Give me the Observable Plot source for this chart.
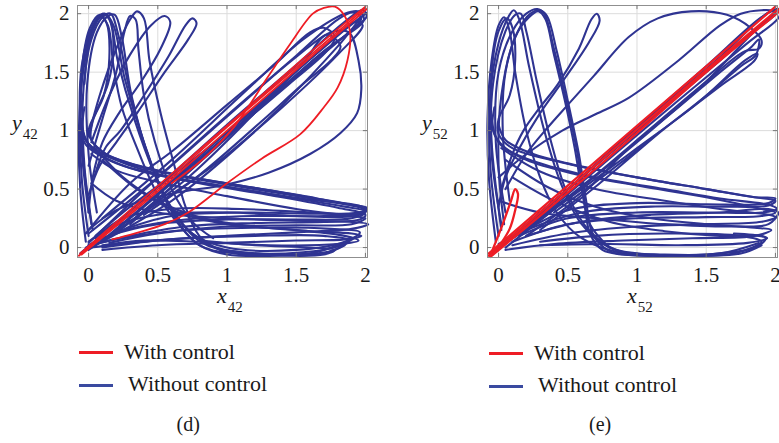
<!DOCTYPE html>
<html>
<head>
<meta charset="utf-8">
<script src="https://cdn.jsdelivr.net/npm/d3@7"></script>
<script src="https://cdn.jsdelivr.net/npm/@observablehq/plot@0.6"></script>
<style>
  html, body { margin: 0; padding: 0; background: #fff; overflow: hidden; }
  #wrap { position: relative; width: 779px; height: 443px; overflow: hidden; font-family: "Liberation Serif", "DejaVu Serif", serif; color: #1a1a1a; }
  .panel { position: absolute; top: 0; width: 410px; height: 330px; }
  .abs { position: absolute; white-space: nowrap; }
  .lbl { font-style: italic; font-size: 22px; line-height: 22px; }
  .lbl .sub { font-style: normal; font-size: 15px; position: relative; top: 9px; left: 1px; }
  .legline { position: absolute; width: 34px; height: 3px; }
  .legtxt { font-size: 22px; line-height: 24px; }
  .cap { font-size: 20px; line-height: 24px; }
</style>
</head>
<body>
<div id="wrap">
  <div id="pd" class="panel" style="left:0px"></div>
  <div id="pe" class="panel" style="left:410px"></div>
</div>
<script>
// ---------- data ----------
const ticks = [0, 0.5, 1, 1.5, 2];
const panelLabels = ["(d)", "(e)"];
const seriesNames = ["With control", "Without control"];
const axisSubs = ["42", "52"];

// panel (d): without control (blue) trajectory segments, [x, y]
const dBlue = [
  [[-0.02,0.05],[-0.06,0.5],[-0.07,1.0],[-0.04,1.5],[0.03,1.86],[0.1,1.99],[0.15,1.96],[0.21,1.6],[0.33,1.1],[0.48,0.62],[0.63,0.25],[0.8,0.02],[1.05,-0.05],[1.45,-0.06],[1.75,-0.03],[1.88,0.06],[1.7,0.1],[1.2,0.1],[0.7,0.08],[0.3,0.04],[0.02,0.0]],
  [[0.0,0.1],[-0.05,0.6],[-0.06,1.2],[-0.02,1.7],[0.06,1.95],[0.12,2.0],[0.18,1.9],[0.26,1.45],[0.4,0.9],[0.56,0.42],[0.75,0.12],[1.0,0.0],[1.5,-0.02],[1.85,0.05],[1.96,0.13],[1.75,0.16],[1.2,0.17],[0.6,0.14],[0.2,0.07],[0.0,0.02]],
  [[0.03,0.15],[-0.03,0.7],[-0.04,1.3],[0.02,1.78],[0.1,1.97],[0.16,2.0],[0.21,1.84],[0.29,1.38],[0.42,0.82],[0.6,0.33],[0.82,0.04],[1.1,-0.04],[1.55,-0.04],[1.8,0.01],[1.92,0.08]],
  [[0.06,0.3],[0.0,0.8],[-0.01,1.4],[0.06,1.84],[0.14,1.98],[0.19,1.99],[0.24,1.8],[0.31,1.3],[0.45,0.72],[0.62,0.28],[0.88,0.02],[1.2,-0.05],[1.6,-0.05],[1.82,0.03]],
  [[0.02,0.2],[-0.05,0.9],[-0.05,1.5],[0.01,1.88],[0.08,1.99],[0.13,1.92],[0.15,1.62],[0.11,1.3],[0.03,1.08],[0.02,0.92],[0.15,0.78],[0.5,0.63],[1.0,0.52],[1.5,0.42],[1.85,0.35],[2.0,0.31],[1.92,0.27],[1.5,0.27],[1.0,0.3],[0.5,0.28],[0.18,0.18],[0.0,0.05]],
  [[0.0,0.3],[-0.06,1.0],[-0.05,1.55],[0.03,1.9],[0.1,2.0],[0.15,1.95],[0.18,1.7],[0.14,1.4],[0.05,1.15],[0.0,0.98],[0.1,0.82],[0.45,0.67],[1.0,0.55],[1.5,0.45],[1.9,0.36],[2.01,0.32],[1.95,0.29],[1.6,0.3],[1.1,0.33],[0.6,0.33],[0.25,0.25],[0.05,0.08]],
  [[0.0,0.95],[0.08,1.3],[0.2,1.7],[0.3,1.95],[0.35,2.02],[0.4,1.96],[0.44,1.6],[0.52,1.15],[0.62,0.7],[0.7,0.35],[0.8,0.1],[0.95,-0.02],[1.3,-0.06],[1.7,-0.05],[1.85,0.02]],
  [[0.02,0.9],[0.15,1.3],[0.3,1.65],[0.45,1.9],[0.55,1.98],[0.59,1.93],[0.52,1.7],[0.38,1.42],[0.22,1.15],[0.1,0.9],[0.03,0.6],[0.0,0.3]],
  [[0.04,0.6],[0.12,0.85],[0.23,1.0],[0.4,1.3],[0.58,1.64],[0.7,1.9],[0.75,1.96],[0.78,1.92],[0.72,1.78],[0.55,1.5],[0.35,1.15],[0.2,0.9],[0.08,0.7],[0.0,0.45]],
  [[0.0,0.7],[0.1,1.1],[0.2,1.5],[0.26,1.85],[0.3,1.98],[0.34,1.95],[0.36,1.7],[0.4,1.3],[0.48,0.9],[0.6,0.5],[0.75,0.22],[0.9,0.08]],
  [[-0.04,1.3],[-0.06,1.05],[-0.02,0.88],[0.2,0.72],[0.6,0.6],[1.1,0.5],[1.6,0.41],[1.95,0.36],[2.01,0.33],[1.95,0.3],[1.6,0.29],[1.1,0.3],[0.6,0.27],[0.2,0.13],[0.0,0.02]],
  [[-0.03,1.2],[-0.04,1.0],[0.02,0.86],[0.25,0.74],[0.65,0.62],[1.15,0.52],[1.65,0.42],[1.97,0.34],[2.0,0.3],[1.9,0.25],[1.5,0.24],[1.0,0.24],[0.5,0.2],[0.15,0.1],[-0.02,0.0]],
  [[-0.05,1.1],[-0.02,0.92],[0.1,0.8],[0.4,0.68],[0.9,0.56],[1.4,0.46],[1.85,0.37],[2.01,0.34],[1.97,0.3],[1.7,0.27],[1.2,0.27],[0.7,0.24],[0.3,0.16],[0.05,0.05]],
  [[-0.04,0.95],[0.05,0.82],[0.3,0.68],[0.8,0.55],[1.3,0.45],[1.8,0.34],[2.0,0.28],[1.96,0.24],[1.7,0.22],[1.2,0.21],[0.7,0.18],[0.3,0.1],[0.05,0.03]],
  [[0.02,0.8],[0.2,0.66],[0.5,0.56],[1.0,0.44],[1.5,0.33],[1.9,0.27],[2.0,0.25],[1.9,0.2],[1.5,0.19],[1.0,0.18],[0.5,0.12],[0.15,0.04]],
  [[0.05,0.85],[0.25,0.6],[0.5,0.4],[0.8,0.26],[1.2,0.18],[1.6,0.14],[1.9,0.12],[1.97,0.1],[1.85,0.07],[1.5,0.06],[1.0,0.04],[0.5,0.02],[0.1,-0.02]],
  [[0.1,0.75],[0.35,0.5],[0.65,0.3],[1.0,0.2],[1.5,0.15],[1.85,0.1],[1.95,0.06],[1.8,0.03],[1.3,0.02],[0.8,0.05],[0.4,0.06],[0.1,0.02]],
  [[0.02,0.55],[0.2,0.4],[0.5,0.3],[1.0,0.25],[1.5,0.23],[1.9,0.22],[2.02,0.2],[1.9,0.16],[1.5,0.13],[1.0,0.1],[0.5,0.06],[0.1,0.0]],
  [[-0.03,1.4],[0.02,1.82],[0.09,1.97],[0.14,1.9],[0.18,1.55],[0.24,1.2],[0.35,0.85],[0.5,0.45],[0.65,0.2],[0.8,0.02],[1.0,-0.06],[1.4,-0.07],[1.7,-0.06],[1.78,-0.02],[1.6,0.0],[1.2,0.02],[0.8,0.06]],
  [[-0.06,-0.05],[0.5,0.52],[1.0,1.05],[1.5,1.56],[1.85,1.93],[1.98,2.03],[2.01,1.98],[1.9,1.86],[1.5,1.46],[1.0,0.96],[0.5,0.46],[0.1,0.06]],
  [[0.0,0.04],[0.5,0.6],[1.0,1.13],[1.5,1.64],[1.8,1.95],[1.91,2.01],[1.97,1.96],[1.6,1.58],[1.1,1.06],[0.6,0.52],[0.2,0.12]],
  [[-0.02,0.12],[0.3,0.55],[0.61,0.83],[1.0,1.22],[1.35,1.57],[1.6,1.84],[1.7,1.88],[1.78,1.8],[1.72,1.68],[1.45,1.4],[1.05,1.0],[0.6,0.55],[0.2,0.15]],
  [[0.05,0.02],[0.6,0.4],[1.0,0.78],[1.4,1.22],[1.8,1.72],[1.98,1.98],[2.01,2.01],[1.85,1.86],[1.3,1.3],[0.8,0.78],[0.35,0.3]],
  [[0.0,0.12],[0.5,0.6],[1.0,1.12],[1.5,1.63],[1.75,1.84],[1.88,1.84],[1.95,1.6],[1.97,1.35],[1.94,1.15],[1.82,0.98],[1.6,0.8],[1.3,0.64],[1.0,0.54],[0.6,0.46],[0.2,0.32],[0.0,0.15]],
  [[0.15,0.1],[0.7,0.58],[1.2,1.15],[1.55,1.58],[1.72,1.82],[1.82,1.72],[1.75,1.6],[1.55,1.4],[1.25,1.08],[0.8,0.62],[0.4,0.28]],
  [[0.1,0.25],[0.6,0.75],[1.1,1.3],[1.55,1.78],[1.85,2.0],[1.95,2.02],[1.99,1.95],[1.7,1.68],[1.2,1.15],[0.7,0.62],[0.3,0.2]],
  [[0.0,-0.02],[0.4,0.3],[0.9,0.7],[1.4,1.2],[1.8,1.65],[1.98,1.9],[1.93,1.93],[1.7,1.72],[1.2,1.18],[0.7,0.7],[0.3,0.35],[0.05,0.1]]
];
// panel (d): with control (red)
const dRed = [
  [[-0.07,-0.07],[0.5,0.5],[1.0,1.03],[1.5,1.54],[2.0,2.05]],
  [[-0.05,-0.06],[0.5,0.48],[1.0,1.0],[1.5,1.52],[2.01,2.04]],
  [[-0.06,-0.05],[0.6,0.63],[1.2,1.25],[1.7,1.77],[2.0,2.06]],
  [[0.17,0.07],[0.33,0.12],[0.55,0.2],[0.72,0.3],[1.0,0.55],[1.25,0.76],[1.53,0.97],[1.7,1.2],[1.8,1.37],[1.87,1.6],[1.89,1.83],[1.85,1.98],[1.78,2.06],[1.7,2.05],[1.62,2.0],[1.45,1.73],[1.29,1.45],[1.05,1.03],[0.81,0.74],[0.6,0.55]]
];

// panel (e): without control (blue)
const eBlue = [
  [[-0.02,0.05],[-0.07,0.6],[-0.08,1.1],[-0.05,1.6],[0.0,1.9],[0.04,1.97],[0.08,1.85],[0.12,1.5],[0.2,1.0],[0.3,0.6],[0.42,0.3],[0.6,0.08],[0.9,-0.05],[1.3,-0.07],[1.7,-0.05],[1.9,0.05],[1.75,0.1],[1.2,0.12],[0.7,0.1],[0.3,0.05]],
  [[0.0,0.1],[-0.06,0.7],[-0.06,1.3],[0.0,1.75],[0.07,1.97],[0.11,2.03],[0.15,1.95],[0.22,1.55],[0.33,1.0],[0.45,0.55],[0.6,0.2],[0.8,0.0],[1.1,-0.06],[1.5,-0.06],[1.85,0.0],[1.93,0.08],[1.7,0.12]],
  [[0.02,0.2],[-0.05,0.8],[-0.04,1.4],[0.05,1.85],[0.12,1.99],[0.16,2.0],[0.2,1.85],[0.28,1.4],[0.38,0.9],[0.5,0.45],[0.65,0.15],[0.85,-0.02],[1.2,-0.06],[1.6,-0.05],[1.88,0.04]],
  [[0.05,0.3],[-0.02,0.9],[0.0,1.5],[0.1,1.85],[0.2,2.0],[0.28,2.04],[0.33,2.0],[0.4,1.7],[0.5,1.2],[0.57,0.8],[0.62,0.4],[0.66,0.12],[0.75,-0.02],[0.9,-0.06],[1.3,-0.07],[1.75,-0.05],[1.9,0.02]],
  [[0.08,0.4],[0.03,1.0],[0.05,1.5],[0.14,1.85],[0.23,2.0],[0.3,2.03],[0.35,1.98],[0.42,1.68],[0.51,1.2],[0.58,0.8],[0.63,0.42],[0.68,0.12],[0.8,-0.03],[1.1,-0.07]],
  [[0.04,0.2],[0.0,0.7],[0.02,1.3],[0.12,1.8],[0.22,1.97],[0.29,2.02],[0.34,1.95],[0.4,1.65],[0.48,1.25],[0.55,0.85],[0.6,0.5],[0.66,0.2],[0.8,0.0]],
  [[0.02,0.15],[-0.05,0.9],[-0.05,1.5],[0.0,1.85],[0.06,1.96],[0.1,1.88],[0.12,1.6],[0.08,1.3],[0.0,1.1],[0.0,0.97],[0.1,0.85],[0.45,0.73],[1.0,0.6],[1.5,0.5],[1.85,0.43],[2.0,0.4],[1.95,0.36],[1.6,0.35],[1.1,0.35],[0.6,0.3],[0.2,0.15],[0.0,0.03]],
  [[0.02,0.5],[0.1,0.8],[0.18,1.0],[0.3,1.2],[0.43,1.4],[0.58,1.7],[0.67,1.95],[0.71,2.0],[0.73,1.94],[0.65,1.75],[0.48,1.45],[0.3,1.15],[0.15,0.85],[0.05,0.6],[0.0,0.35]],
  [[0.05,0.5],[0.2,0.8],[0.35,1.02],[0.5,1.22],[0.69,1.47],[0.94,1.8],[1.15,1.96],[1.39,2.02],[1.65,1.99],[1.82,1.88],[1.9,1.77],[1.88,1.7],[1.78,1.68],[1.5,1.42],[1.1,1.02],[0.7,0.62],[0.3,0.25],[0.0,0.0]],
  [[0.0,0.6],[0.2,0.8],[0.46,1.0],[0.7,1.14],[0.94,1.28],[1.3,1.6],[1.6,1.9],[1.75,2.0],[1.9,2.03],[2.0,2.02],[1.95,1.96],[1.5,1.5],[1.0,1.0],[0.5,0.5],[0.0,0.0]],
  [[0.2,0.1],[0.6,0.45],[0.94,0.85],[1.3,1.2],[1.6,1.5],[1.83,1.72],[1.88,1.78],[1.86,1.65],[1.75,1.55],[1.4,1.2],[1.0,0.85],[0.6,0.5],[0.2,0.15]],
  [[0.3,0.15],[0.7,0.52],[1.18,1.0],[1.5,1.3],[1.78,1.6],[1.87,1.66],[1.85,1.6],[1.6,1.38],[1.2,1.02],[0.8,0.65],[0.4,0.3]],
  [[-0.05,-0.05],[0.5,0.5],[1.0,1.03],[1.5,1.55],[1.9,1.97],[2.02,2.04],[2.03,1.98],[1.8,1.75],[1.3,1.26],[0.8,0.76],[0.3,0.26],[0.0,0.0]],
  [[0.05,0.0],[0.5,0.42],[1.0,0.9],[1.5,1.42],[1.85,1.85],[2.0,2.0],[1.97,2.02],[1.6,1.63],[1.1,1.12],[0.6,0.6],[0.2,0.18]],
  [[0.0,1.05],[0.05,0.92],[0.25,0.8],[0.5,0.72],[1.0,0.6],[1.5,0.5],[1.85,0.43],[2.0,0.42],[1.95,0.38],[1.5,0.37],[1.0,0.38],[0.5,0.32],[0.2,0.15],[0.0,0.0]],
  [[-0.03,1.2],[-0.04,1.0],[0.05,0.85],[0.3,0.72],[0.7,0.6],[1.2,0.5],[1.6,0.42],[1.97,0.36],[2.01,0.33],[1.9,0.3],[1.5,0.3],[1.0,0.3],[0.5,0.25],[0.15,0.1]],
  [[-0.05,1.1],[0.0,0.9],[0.2,0.75],[0.55,0.63],[1.0,0.53],[1.5,0.43],[1.9,0.33],[2.0,0.3],[1.9,0.27],[1.5,0.26],[1.0,0.25],[0.5,0.2],[0.1,0.05]],
  [[0.02,0.85],[0.3,0.65],[0.7,0.5],[1.2,0.4],[1.6,0.33],[1.95,0.28],[2.0,0.26],[1.9,0.22],[1.5,0.2],[1.0,0.18],[0.5,0.12],[0.1,0.02]],
  [[0.05,0.75],[0.35,0.52],[0.7,0.35],[1.1,0.25],[1.5,0.2],[1.85,0.17],[1.97,0.15],[1.85,0.1],[1.4,0.08],[0.9,0.06],[0.4,0.03],[0.05,-0.02]],
  [[0.1,0.6],[0.4,0.4],[0.8,0.22],[1.2,0.14],[1.6,0.1],[1.9,0.1],[1.94,0.08],[1.8,0.04],[1.3,0.02],[0.8,0.03],[0.3,0.02]],
  [[0.0,0.4],[0.3,0.3],[0.7,0.25],[1.2,0.2],[1.7,0.18],[1.95,0.2],[2.02,0.3],[1.95,0.33],[1.6,0.3],[1.1,0.28],[0.6,0.22],[0.2,0.1]]
];
// panel (e): with control (red)
const eRed = [
  [[-0.07,-0.07],[0.5,0.5],[1.0,1.01],[1.5,1.52],[2.02,2.04]],
  [[-0.06,-0.08],[0.5,0.47],[1.0,0.98],[1.5,1.5],[2.03,2.02]],
  [[-0.07,-0.05],[0.5,0.53],[1.0,1.04],[1.5,1.55],[2.0,2.06]],
  [[-0.05,-0.04],[0.03,0.2],[0.09,0.4],[0.12,0.5],[0.14,0.46],[0.12,0.32],[0.08,0.16],[0.02,0.04]]
];

// ---------- drawing ----------
const BLUE = "#2f3492";
const RED = "#ee1d25";
const xDomain = [-0.08, 2.015];
const yDomain = [-0.085, 2.07];

function rows(paths) {
  return paths.flatMap((p, i) => p.map(([x, y]) => ({x, y, id: i})));
}

function panel(blue, red, redWidth) {
  const tx = 0.03, ty = 0.035;
  return Plot.plot({
    width: 410, height: 330,
    marginLeft: 77, marginRight: 43, marginTop: 5, marginBottom: 73,
    style: {fontFamily: "'Liberation Serif', serif", fontSize: "21px", color: "#1a1a1a", background: "white"},
    x: {domain: xDomain, ticks, tickSize: 0, tickPadding: 10, tickFormat: d => String(d), label: null},
    y: {domain: yDomain, ticks, tickSize: 0, tickPadding: 8, tickFormat: d => String(d), label: null},
    marks: [
      Plot.ruleX(ticks, {stroke: "#dcdcdc", strokeWidth: 1}),
      Plot.ruleY(ticks, {stroke: "#dcdcdc", strokeWidth: 1}),
      Plot.line(rows(blue), {x: "x", y: "y", z: "id", curve: "catmull-rom", stroke: BLUE, strokeWidth: 2.1}),
      Plot.line(rows(red), {x: "x", y: "y", z: "id", curve: "catmull-rom", stroke: RED, strokeWidth: redWidth}),
      Plot.frame({stroke: "#8f8f8f", strokeWidth: 1}),
      Plot.ruleX(ticks, {y1: yDomain[0], y2: yDomain[0] + ty, stroke: "#777"}),
      Plot.ruleX(ticks, {y1: yDomain[1], y2: yDomain[1] - ty, stroke: "#777"}),
      Plot.ruleY(ticks, {x1: xDomain[0], x2: xDomain[0] + tx, stroke: "#777"}),
      Plot.ruleY(ticks, {x1: xDomain[1], x2: xDomain[1] - tx, stroke: "#777"})
    ]
  });
}

document.getElementById("pd").appendChild(panel(dBlue, dRed, 1.8));
document.getElementById("pe").appendChild(panel(eBlue, eRed, 2.3));

// labels, legends, captions (HTML text)
const wrap = document.getElementById("wrap");
function add(html, cls, left, top) {
  const el = document.createElement("div");
  el.className = "abs " + cls;
  el.style.left = left + "px";
  el.style.top = top + "px";
  el.innerHTML = html;
  wrap.appendChild(el);
  return el;
}
[0, 1].forEach(i => {
  const off = i * 410;
  add(`y<span class="sub">${axisSubs[i]}</span>`, "lbl", 12 + off, 112);
  add(`x<span class="sub">${axisSubs[i]}</span>`, "lbl", 217 + off, 285);
  const l1 = document.createElement("div");
  l1.className = "legline"; l1.style.background = RED;
  l1.style.left = (79 + off) + "px"; l1.style.top = (351 + (i ? 1 : 0)) + "px";
  wrap.appendChild(l1);
  const l2 = document.createElement("div");
  l2.className = "legline"; l2.style.background = "#3a4aa0";
  l2.style.left = (79 + off) + "px"; l2.style.top = (384 + (i ? 1 : 0)) + "px";
  wrap.appendChild(l2);
  add(seriesNames[0], "legtxt", 124 + off, 340 + (i ? 1 : 0));
  add(seriesNames[1], "legtxt", 128 + off, 372 + (i ? 1 : 0));
  const c = add(panelLabels[i], "cap", 0, 412);
  c.style.left = (i ? 600 : 188) - c.offsetWidth / 2 + "px";
});
</script>
</body>
</html>
